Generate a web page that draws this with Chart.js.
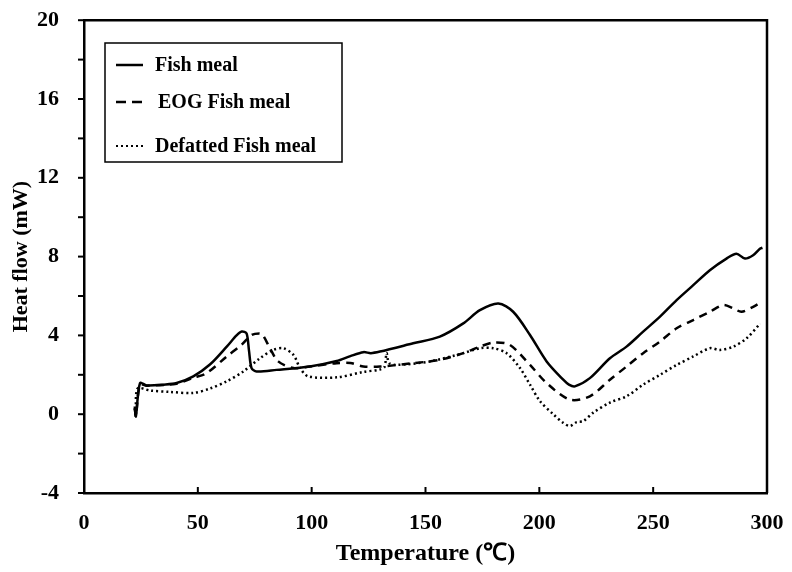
<!DOCTYPE html>
<html>
<head>
<meta charset="utf-8">
<script src="https://cdn.jsdelivr.net/npm/chart.js@4.4.1/dist/chart.umd.min.js"></script>
<style>
  html, body { margin: 0; padding: 0; background: #fff; }
  #wrap { width: 792px; height: 572px; position: relative; }
</style>
</head>
<body>
<div id="wrap"><canvas id="dsc"></canvas></div>
<script>
// ---- data ----
const fishT = [22.3, 22.8, 24.6, 27.5, 35, 40.7, 48, 55.3, 62.7, 67, 69.3, 71.4, 72.5, 73.6, 75.8, 84.6, 99.2, 111, 117, 122.7, 126, 130, 144.6, 156.3, 166.6, 173.9, 182, 188.5, 195.9, 203.2, 210.5, 213, 215.6, 222.2, 231, 238.3, 245.6, 253, 260.3, 267.6, 274.9, 282.2, 286.6, 290.3, 293.9, 296.9, 298];
const fishV = [0.4, -0.1, 1.58, 1.46, 1.5, 1.58, 1.92, 2.52, 3.43, 4.0, 4.2, 4.1, 3.2, 2.34, 2.17, 2.25, 2.42, 2.7, 2.95, 3.15, 3.1, 3.18, 3.6, 3.94, 4.61, 5.28, 5.62, 5.2, 4.02, 2.68, 1.75, 1.5, 1.41, 1.83, 2.84, 3.43, 4.19, 4.95, 5.79, 6.55, 7.31, 7.9, 8.15, 7.9, 8.07, 8.4, 8.45];

const eogT = [22.3, 22.8, 24.6, 27.5, 40.7, 48, 53.8, 62.7, 69.2, 73.6, 77, 78.5, 81.7, 85.3, 92, 99.2, 111, 117, 122.7, 130, 144.6, 156.3, 166.6, 173.9, 179.8, 187, 195.9, 203.2, 213.4, 222.2, 231, 238.3, 245.6, 253, 260.3, 267.6, 274.9, 280.8, 285.2, 288.8, 293.9, 297.6];
const eogV = [0.3, -0.1, 1.5, 1.45, 1.55, 1.85, 2.08, 2.93, 3.52, 4.02, 4.1, 4.02, 3.35, 2.68, 2.34, 2.42, 2.59, 2.6, 2.42, 2.42, 2.59, 2.76, 3.1, 3.43, 3.64, 3.52, 2.5, 1.58, 0.74, 0.91, 1.75, 2.42, 3.1, 3.69, 4.36, 4.78, 5.2, 5.54, 5.37, 5.2, 5.45, 5.7];

const defT = [22.3, 22.8, 23.5, 29, 37.8, 48, 55.3, 62.7, 70, 77.3, 83.1, 87.5, 92, 94.9, 98.5, 111, 122.5, 130, 132, 132.9, 134, 137.3, 152, 166.6, 174, 179.8, 185.6, 191.5, 195.9, 200.3, 206.1, 210.5, 213.4, 216.4, 219.3, 223.7, 231, 238.3, 245.6, 253, 260.3, 267.6, 274.9, 279.3, 285.2, 291, 297];
const defV = [0.3, -0.1, 1.3, 1.2, 1.13, 1.08, 1.3, 1.67, 2.17, 2.84, 3.26, 3.35, 3.01, 2.34, 1.92, 1.87, 2.14, 2.27, 2.4, 3.1, 2.6, 2.5, 2.68, 3.1, 3.35, 3.35, 3.1, 2.34, 1.5, 0.66, 0, -0.44, -0.6, -0.4, -0.35, 0.08, 0.59, 0.91, 1.5, 2.0, 2.5, 2.93, 3.35, 3.26, 3.43, 3.85, 4.6];

const seriesNames = ["Fish meal", "EOG Fish meal", "Defatted Fish meal"];
const xTicks = [0, 50, 100, 150, 200, 250, 300];
const yTicks = [-4, 0, 4, 8, 12, 16, 20];
const yMinor = [-2, 2, 6, 10, 14, 18];

const FONT = "'Liberation Serif', 'Times New Roman', serif";

function pts(xs, ys) {
    return xs.map((x, i) => ({ x: x, y: ys[i] }));
}

// frame on top/right, tick marks, legend box
const framePlugin = {
    id: "frame",
    afterDraw(chart) {
        const ctx = chart.ctx;
        const a = chart.chartArea;
        const xs = chart.scales.x;
        const ys = chart.scales.y;
        ctx.save();
        ctx.strokeStyle = "#000";
        ctx.lineWidth = 2.5;
        ctx.beginPath();
        ctx.moveTo(a.left, a.top);
        ctx.lineTo(a.right, a.top);
        ctx.lineTo(a.right, a.bottom);
        ctx.stroke();

        // x ticks pointing up into the plot
        ctx.lineWidth = 2;
        xTicks.forEach(v => {
            const px = xs.getPixelForValue(v);
            ctx.beginPath();
            ctx.moveTo(px, a.bottom);
            ctx.lineTo(px, a.bottom - 6);
            ctx.stroke();
        });
        // y ticks pointing out (major + minor)
        yTicks.concat(yMinor).forEach(v => {
            const py = ys.getPixelForValue(v);
            ctx.beginPath();
            ctx.moveTo(a.left, py);
            ctx.lineTo(a.left - 6, py);
            ctx.stroke();
        });

        // legend
        ctx.lineWidth = 1.5;
        ctx.strokeRect(105, 43, 237, 119);
        const rows = [65, 102, 146];
        const dashes = [[], [10, 6], [2, 3]];
        const textX = [155, 158, 155];
        ctx.font = "bold 20px " + FONT;
        ctx.textBaseline = "middle";
        ctx.fillStyle = "#000";
        rows.forEach((ry, i) => {
            ctx.lineWidth = i === 2 ? 2 : 2.5;
            ctx.setLineDash(dashes[i]);
            ctx.beginPath();
            ctx.moveTo(116, ry);
            ctx.lineTo(143, ry);
            ctx.stroke();
            ctx.setLineDash([]);
            ctx.fillText(seriesNames[i], textX[i], ry + 1);
        });
        ctx.restore();
    }
};

function initChart() {
    new Chart(document.getElementById("dsc"), {
        type: "line",
        data: {
            datasets: [
                { label: seriesNames[0], data: pts(fishT, fishV), borderColor: "#000", borderWidth: 2.5, pointRadius: 0, tension: 0.3 },
                { label: seriesNames[1], data: pts(eogT, eogV), borderColor: "#000", borderWidth: 2.5, borderDash: [8, 6], pointRadius: 0, tension: 0.3 },
                { label: seriesNames[2], data: pts(defT, defV), borderColor: "#000", borderWidth: 2.5, borderDash: [2, 3], pointRadius: 0, tension: 0.3 }
            ]
        },
        options: {
            responsive: true,
            maintainAspectRatio: false,
            animation: false,
            layout: { padding: { top: 17, right: 25, left: 0, bottom: 0 } },
            plugins: { legend: { display: false }, tooltip: { enabled: false } },
            scales: {
                x: {
                    type: "linear",
                    min: 0, max: 300,
                    afterBuildTicks: s => { s.ticks = xTicks.map(v => ({ value: v })); },
                    afterFit: s => { s.height = 79; },
                    grid: { display: true, drawOnChartArea: false, tickLength: 15, tickColor: "rgba(0,0,0,0)" },
                    border: { color: "#000", width: 2.5 },
                    ticks: { color: "#000", padding: 2, font: { family: FONT, size: 22, weight: "bold" } },
                    title: { display: true, text: "Temperature (℃)", color: "#000", padding: { top: 0, bottom: 4 }, font: { family: FONT, size: 24, weight: "bold" } }
                },
                y: {
                    min: -4, max: 20,
                    afterBuildTicks: s => { s.ticks = yTicks.map(v => ({ value: v })); },
                    ticks: {
                        color: "#000",
                        padding: 7,
                        font: { family: FONT, size: 22, weight: "bold" }
                    },
                    afterFit: s => { s.width = 84; },
                    grid: { drawOnChartArea: false, tickLength: 18, tickColor: "rgba(0,0,0,0)" },
                    border: { color: "#000", width: 2.5 },
                    title: { display: true, text: "Heat flow (mW)", color: "#000", padding: { top: 8, bottom: 0 }, font: { family: FONT, size: 22, weight: "bold" } }
                }
            }
        },
        plugins: [framePlugin]
    });
}

window.onload = initChart;
</script>
</body>
</html>
